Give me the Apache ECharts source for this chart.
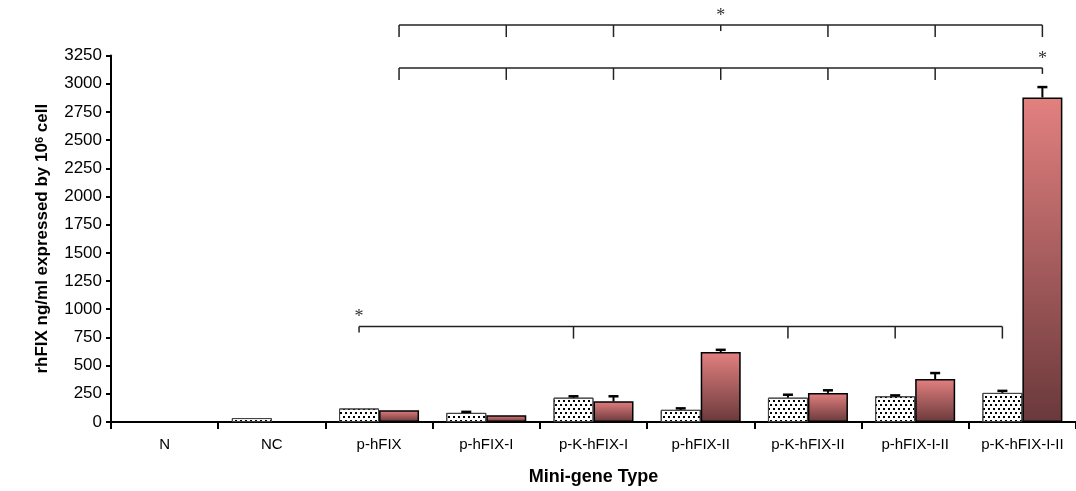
<!DOCTYPE html>
<html>
<head>
<meta charset="utf-8">
<script src="https://cdn.jsdelivr.net/npm/echarts@6/dist/echarts.min.js"></script>
<style>
html,body{margin:0;padding:0;background:#fff;}
#chart{width:1076px;height:491px;}
</style>
</head>
<body>
<div id="chart"></div>
<script>
const categories = ['N','NC','p-hFIX','p-hFIX-I','p-K-hFIX-I','p-hFIX-II','p-K-hFIX-II','p-hFIX-I-II','p-K-hFIX-I-II'];
const dottedValues = [0, 35, 120, 81, 216, 108, 216, 228, 258];
const dottedErrors = [0, 0, 0, 9, 12, 13, 26, 8, 18];
const redValues = [0, 0, 105, 60, 184, 620, 258, 381, 2878];
const redErrors = [0, 0, 0, 0, 44, 20, 23, 53, 92];
const yMin = 0, yMax = 3250, yStep = 250;
// significance brackets: level (value units), which bar, categories joined, star position
const brackets = [
  {side: 1, level: 3520, cats: [2,3,4,5,6,7,8], star: 5},
  {side: 1, level: 3140, cats: [2,3,4,5,6,7,8], star: 8},
  {side: -1, level: 846, cats: [2,4,6,7,8], star: 2}
];

const BAR_W = 40;
const chart = echarts.init(document.getElementById('chart'), null, {renderer: 'canvas'});

const redGradient = new echarts.graphic.LinearGradient(0, 0, 0, 1, [
  {offset: 0, color: '#e38080'},
  {offset: 1, color: '#6a393b'}
]);

const errData = [];
categories.forEach((c, i) => {
  if (dottedErrors[i] > 0) errData.push([i, dottedValues[i], dottedErrors[i], -1]);
  if (redErrors[i] > 0) errData.push([i, redValues[i], redErrors[i], 1]);
});
const hideZero = v => (v === 0 ? '-' : v);

const option = {
  animation: false,
  backgroundColor: '#fff',
  grid: {left: 111, top: 55.5, width: 971, height: 368},
  xAxis: {
    type: 'category',
    data: categories,
    name: 'Mini-gene Type',
    nameLocation: 'middle',
    nameGap: 46,
    nameTextStyle: {fontFamily: 'Liberation Sans', fontWeight: 'bold', fontSize: 18, color: '#000'},
    axisLine: {lineStyle: {color: '#000', width: 2}},
    axisTick: {show: true, length: 7, lineStyle: {color: '#000', width: 2}},
    axisLabel: {interval: 0, margin: 15, fontFamily: 'Liberation Sans', fontSize: 15, color: '#000'}
  },
  yAxis: {
    type: 'value',
    min: yMin, max: yMax, interval: yStep,
    name: 'rhFIX ng/ml expressed by 10{sup|6} cell',
    nameLocation: 'middle',
    nameGap: 60,
    nameTextStyle: {
      fontFamily: 'Liberation Sans', fontWeight: 'bold', fontSize: 17, color: '#000',
      rich: {sup: {fontFamily: 'Liberation Sans', fontWeight: 'bold', fontSize: 11, color: '#000', verticalAlign: 'top'}}
    },
    splitLine: {show: false},
    axisLine: {show: true, lineStyle: {color: '#000', width: 2}},
    axisTick: {show: true, length: 5, lineStyle: {color: '#000', width: 2}},
    axisLabel: {margin: 9, fontFamily: 'Liberation Sans', fontSize: 17, color: '#000', formatter: v => String(v)}
  },
  series: [
    {
      type: 'bar',
      data: dottedValues.map(hideZero),
      barWidth: BAR_W,
      barGap: '0%',
      itemStyle: {
        color: '#fff',
        borderColor: '#444',
        borderWidth: 1,
        decal: {
          symbol: 'rect',
          symbolSize: 1,
          color: '#000',
          dashArrayX: [[2, 3], [0, 3, 2, 0]],
          dashArrayY: [2, 2]
        }
      },
      z: 2
    },
    {
      type: 'bar',
      data: redValues.map(hideZero),
      barWidth: BAR_W,
      barGap: '0%',
      itemStyle: {color: redGradient, borderColor: '#000', borderWidth: 1.5},
      z: 2
    },
    {
      type: 'custom',
      data: errData,
      encode: {x: 0, y: 1},
      z: 3,
      renderItem: function (params, api) {
        const cat = api.value(0), v = api.value(1), e = api.value(2), side = api.value(3);
        const base = api.coord([cat, v]);
        const top = api.coord([cat, v + e]);
        const x = base[0] + side * BAR_W / 2;
        return {
          type: 'group',
          children: [
            {type: 'line', shape: {x1: x, y1: base[1], x2: x, y2: top[1]}, style: {stroke: '#000', lineWidth: 2}},
            {type: 'line', shape: {x1: x - 5, y1: top[1], x2: x + 5, y2: top[1]}, style: {stroke: '#000', lineWidth: 2.5}}
          ]
        };
      }
    },
    {
      type: 'custom',
      data: brackets.map((b, i) => [b.cats[0], b.level, i]),
      encode: {x: 0, y: 1},
      z: 3,
      clip: false,
      renderItem: function (params, api) {
        const b = brackets[api.value(2)];
        const children = [];
        const xs = b.cats.map(c => api.coord([c, b.level])[0] + b.side * BAR_W / 2);
        const y = api.coord([b.cats[0], b.level])[1];
        children.push({type: 'line', shape: {x1: xs[0], y1: y, x2: xs[xs.length - 1], y2: y}, style: {stroke: '#222', lineWidth: 1.5}});
        b.cats.forEach((c, k) => {
          const len = c === b.star ? 6 : 12;
          children.push({type: 'line', shape: {x1: xs[k], y1: y, x2: xs[k], y2: y + len}, style: {stroke: '#222', lineWidth: 1.5}});
          if (c === b.star) {
            children.push({type: 'text', x: xs[k], y: y - 9, style: {text: '*', fontFamily: 'Liberation Serif', fontSize: 18, fill: '#333', align: 'center', verticalAlign: 'middle'}});
          }
        });
        return {type: 'group', children: children};
      }
    }
  ]
};
chart.setOption(option);
</script>
</body>
</html>
